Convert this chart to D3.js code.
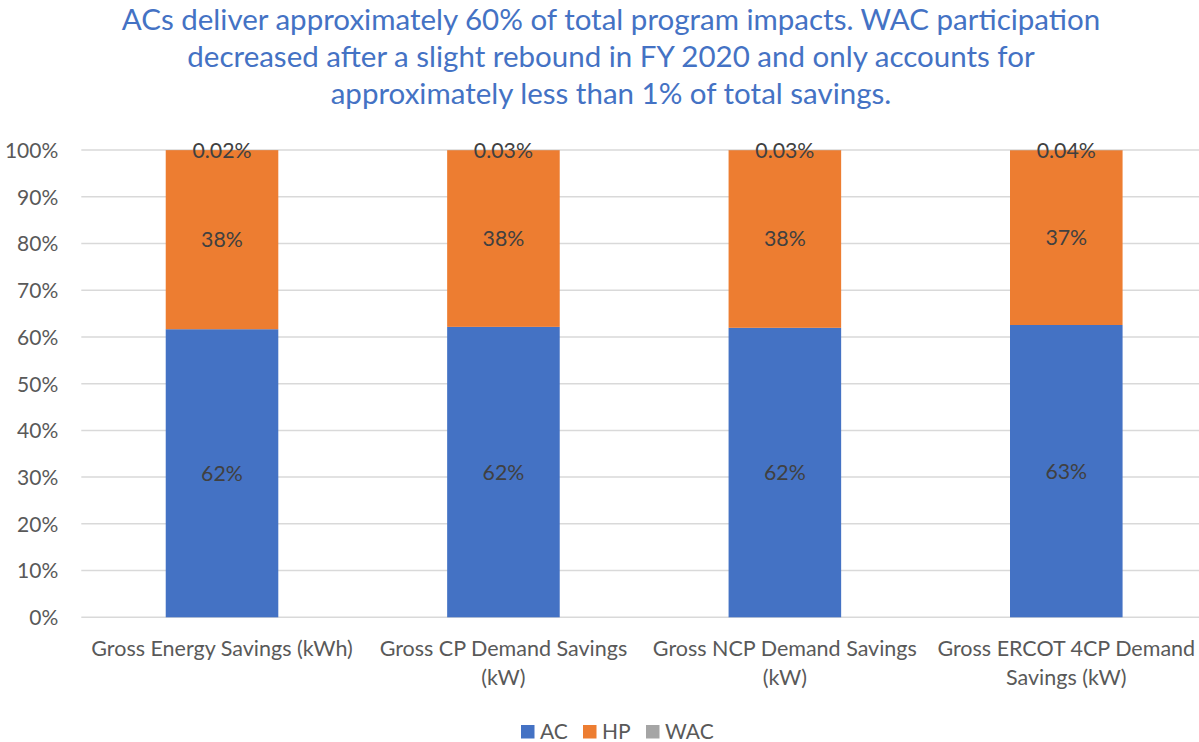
<!DOCTYPE html>
<html><head><meta charset="utf-8">
<script src="https://cdn.jsdelivr.net/npm/d3@7"></script>
<style>body{margin:0;background:#fff}svg{display:block}</style>
</head><body><div id="chart"></div>
<script>
const titleLines = [
  "ACs deliver approximately 60% of total program impacts. WAC participation",
  "decreased after a slight rebound in FY 2020 and only accounts for",
  "approximately less than 1% of total savings."
];
const categories = ["Gross Energy Savings (kWh)", "Gross CP Demand Savings (kW)", "Gross NCP Demand Savings (kW)", "Gross ERCOT 4CP Demand Savings (kW)"];
const categoryLines = [["Gross Energy Savings (kWh)"], ["Gross CP Demand Savings", "(kW)"], ["Gross NCP Demand Savings", "(kW)"], ["Gross ERCOT 4CP Demand", "Savings (kW)"]];
const seriesNames = ["AC", "HP", "WAC"];
const acValues = [61.65, 62.15, 61.95, 62.55];
const hpValues = [38.33, 37.82, 38.02, 37.41];
const wacValues = [0.02, 0.03, 0.03, 0.04];
const acLabels = ["62%", "62%", "62%", "63%"];
const hpLabels = ["38%", "38%", "38%", "37%"];
const wacLabels = ["0.02%", "0.03%", "0.03%", "0.04%"];
const yTicks = [0, 10, 20, 30, 40, 50, 60, 70, 80, 90, 100];
const colors = ["#4472C4", "#ED7D31", "#A5A5A5"];

const W = 1199, H = 742;
const FONT = "Lato, 'Open Sans', sans-serif";
const svg = d3.select("#chart").append("svg").attr("width", W).attr("height", H);

const x = d3.scaleBand().domain(categories).range([81.3, 1207]).paddingInner(0.6).paddingOuter(0.3);
const y = d3.scaleLinear().domain([0, 100]).range([617.3, 150]);

// title
svg.append("g").selectAll("text").data(titleLines).join("text")
  .attr("x", 611).attr("y", (d, i) => 30 + i * 37)
  .attr("text-anchor", "middle").attr("font-family", FONT).attr("font-size", 29.5)
  .attr("fill", "#4472C4").text(d => d);

// gridlines
svg.append("g").selectAll("line").data(yTicks).join("line")
  .attr("x1", 81.3).attr("x2", 1207).attr("y1", d => y(d)).attr("y2", d => y(d))
  .attr("stroke", "#D9D9D9").attr("stroke-width", 1.5);

// y axis
const yAxis = d3.axisLeft(y).tickValues(yTicks).tickFormat(d => d + "%").tickSize(0).tickPadding(23);
const ya = svg.append("g").attr("transform", "translate(81.3,0)").call(yAxis);
ya.select(".domain").remove();
ya.selectAll("text").attr("font-family", FONT).attr("font-size", 21).attr("fill", "#595959").attr("dy", "0.35em");

// stacks
const rows = categories.map((c, i) => ({cat: c, AC: acValues[i], HP: hpValues[i], WAC: wacValues[i]}));
const stack = d3.stack().keys(seriesNames)(rows);
const layers = svg.append("g").selectAll("g").data(stack).join("g").attr("fill", (d, i) => colors[i]);
layers.selectAll("rect").data(d => d).join("rect")
  .attr("x", d => x(d.data.cat)).attr("width", x.bandwidth())
  .attr("y", d => y(d[1])).attr("height", d => y(d[0]) - y(d[1]));

// data labels
const labelSets = [acLabels, hpLabels, wacLabels];
stack.forEach((layer, li) => {
  svg.append("g").selectAll("text").data(layer).join("text")
    .attr("x", d => x(d.data.cat) + x.bandwidth() / 2)
    .attr("y", d => y((d[0] + d[1]) / 2))
    .attr("dy", "0.35em").attr("text-anchor", "middle")
    .attr("font-family", FONT).attr("font-size", 21.3).attr("fill", "#404040")
    .text((d, i) => labelSets[li][i]);
});

// x axis labels
const xg = svg.append("g");
categories.forEach((c, i) => {
  const t = xg.append("text").attr("text-anchor", "middle").attr("font-family", FONT)
    .attr("font-size", 21.5).attr("fill", "#595959");
  categoryLines[i].forEach((ln, j) => {
    t.append("tspan").attr("x", x(c) + x.bandwidth() / 2).attr("y", 656 + j * 29).text(ln);
  });
});

// legend
const legendX = [521, 583, 646];
const lg = svg.append("g");
seriesNames.forEach((s, i) => {
  lg.append("rect").attr("x", legendX[i]).attr("y", 725).attr("width", 13.5).attr("height", 13.5).attr("fill", colors[i]);
  lg.append("text").attr("x", legendX[i] + 19).attr("y", 738.5).attr("font-family", FONT)
    .attr("font-size", 21).attr("fill", "#595959").text(s);
});
</script></body></html>
